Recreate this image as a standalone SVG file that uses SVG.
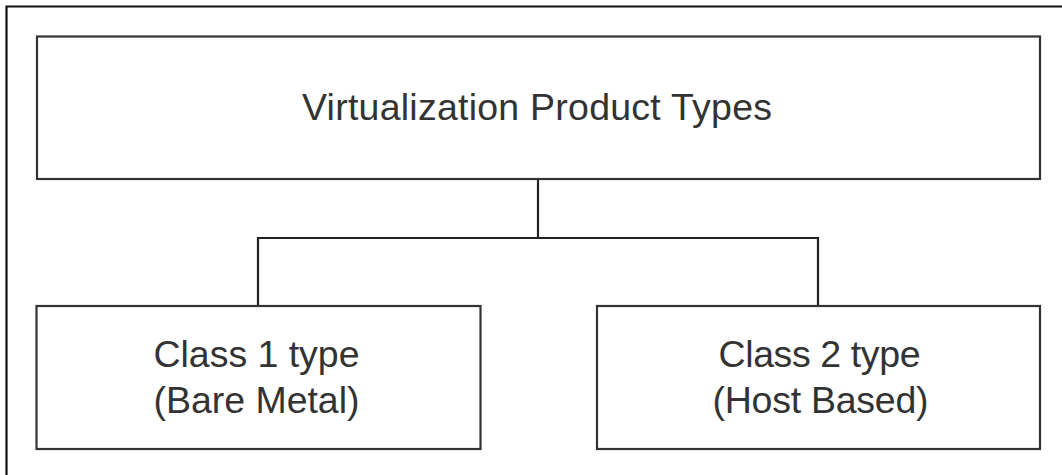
<svg xmlns="http://www.w3.org/2000/svg" width="1062" height="475" viewBox="0 0 1062 475">
<style>
.box{fill:#fff;stroke:#333;stroke-width:2.2}
.frame{fill:none;stroke:#111;stroke-width:2.2}
.conn{fill:none;stroke:#222;stroke-width:2.2}
.t{font-family:"Liberation Sans",Arial,sans-serif;font-size:37.5px;fill:#333;text-anchor:middle}
</style>
<rect width="1062" height="475" fill="#fff"/>
<path class="frame" d="M6.5,480 V6.5 H1070"/>
<g id="connectors">
<path class="conn" d="M538,179 V238"/>
<path class="conn" d="M258,306 V238 H818 V306"/>
</g>
<g id="root">
<rect class="box" x="37" y="36.5" width="1003" height="142.5"/>
<text class="t" x="537" y="120" textLength="470" lengthAdjust="spacing">Virtualization Product Types</text>
</g>
<g id="class1">
<rect class="box" x="36.5" y="306" width="444" height="143"/>
<text class="t" x="256.5" y="367" textLength="206" lengthAdjust="spacing">Class 1 type</text>
<text class="t" x="256.5" y="413" textLength="206" lengthAdjust="spacing">(Bare Metal)</text>
</g>
<g id="class2">
<rect class="box" x="597" y="306" width="443" height="143"/>
<text class="t" x="819.5" y="367" textLength="202" lengthAdjust="spacing">Class 2 type</text>
<text class="t" x="820.5" y="413" textLength="216" lengthAdjust="spacing">(Host Based)</text>
</g>
</svg>
